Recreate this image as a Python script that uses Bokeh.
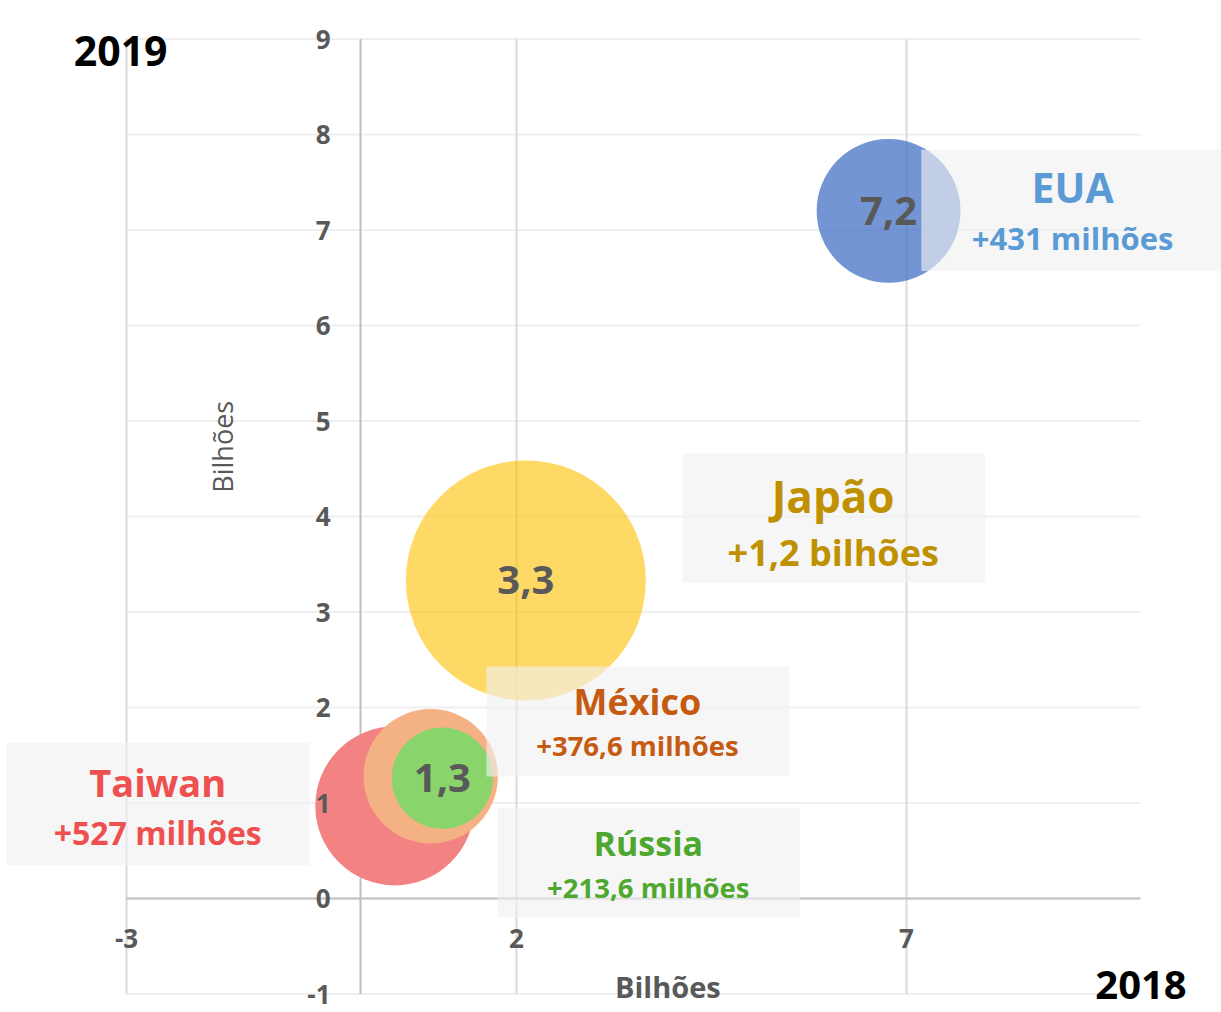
import math
from bokeh.plotting import figure
from bokeh.models import (Range1d, LinearAxis, FixedTicker, BoxAnnotation,
                          Label, ColumnDataSource)
from bokeh.embed import file_html
from bokeh.resources import INLINE
from bokeh.core.properties import value

# ---------------- data ----------------
countries = ["Taiwan", "México", "Rússia", "EUA", "Japão"]
val_2018 = [0.44, 0.90, 1.05, 6.77, 2.12]          # bilhões
val_2019 = [0.97, 1.28, 1.26, 7.20, 3.33]          # bilhões
growth_mi = [527, 376.6, 213.6, 431, 1200]         # milhões
growth_text = ["+527 milhões", "+376,6 milhões", "+213,6 milhões",
               "+431 milhões", "+1,2 bilhões"]
labelled = ["Rússia", "EUA", "Japão"]
x_ticks = [-3, 2, 7]
y_ticks = [-1, 0, 1, 2, 3, 4, 5, 6, 7, 8, 9]
x_min, x_max = -3, 10      # chart area (axis extent)
y_min, y_max = -1, 9

# ---------------- layout / styles ----------------
W, H = 1221, 1012
PX_X, X0 = 78.0, 360.0     # px per unit, px of x=0
PX_Y, Y0 = 95.5, 898.0     # px per unit, px of y=0
BASE_FIX = 0.4             # baseline correction (fraction of font size)
FONT = "Open Sans"
bubble_style = {
    "Taiwan": ("#F38383", 1.0),
    "México": ("#F4B183", 1.0),
    "Rússia": ("#8AD46C", 1.0),
    "EUA": ("#4472C4", 0.75),
    "Japão": ("#FFC000", 0.6),
}
text_color = {
    "Taiwan": "#EE5050",
    "México": "#C55A11",
    "Rússia": "#4EA72E",
    "EUA": "#5B9BD5",
    "Japão": "#BF9000",
}
box_layout = {
    "EUA":    dict(l=7.19, r=11.6, t=7.84, b=6.57, x=9.13, ty=7.277, sy=6.785, ts=41, ss=31),
    "Japão":  dict(l=4.13, r=8.01, t=4.66, b=3.31, x=6.06, ty=4.035, sy=3.469, ts=44, ss=36),
    "México": dict(l=1.615, r=5.50, t=2.43, b=1.277, x=3.55, ty=1.916, sy=1.487, ts=36, ss=27.5),
    "Rússia": dict(l=1.76, r=5.64, t=0.95, b=-0.196, x=3.69, ty=0.443, sy=-0.003, ts=34, ss=27.5),
    "Taiwan": dict(l=-4.54, r=-0.65, t=1.63, b=0.345, x=-2.60, ty=1.061, sy=0.562, ts=38, ss=32),
}


def fy(y, fs):
    return y + BASE_FIX * fs / PX_Y


MAX_D = 240  # diameter (px) of the largest bubble
sizes = [MAX_D * math.sqrt(g / max(growth_mi)) for g in growth_mi]

src = ColumnDataSource(dict(
    x=val_2018, y=val_2019, size=sizes,
    color=[bubble_style[c][0] for c in countries],
    alpha=[bubble_style[c][1] for c in countries],
))
lab_idx = [countries.index(c) for c in labelled]
lab_src = ColumnDataSource(dict(
    x=[val_2018[i] for i in lab_idx],
    y=[val_2019[i] for i in lab_idx],
    text=[f"{val_2019[i]:.1f}".replace(".", ",") for i in lab_idx],
))

p = figure(width=W, height=H,
           x_range=Range1d(-X0 / PX_X, (W - X0) / PX_X),
           y_range=Range1d((Y0 - H) / PX_Y, Y0 / PX_Y),
           x_axis_location=None, y_axis_location=None,
           toolbar_location=None, output_backend="svg",
           min_border_left=0, min_border_right=0,
           min_border_top=0, min_border_bottom=0,
           outline_line_color=None,
           background_fill_color="white", border_fill_color="white")
p.xgrid.visible = False
p.ygrid.visible = False

# grid lines limited to the chart area
p.segment(x0=[x_min] * len(y_ticks), x1=[x_max] * len(y_ticks), y0=y_ticks, y1=y_ticks,
          line_color="#EFEFEF", line_width=2, level="underlay")
p.segment(x0=x_ticks, x1=x_ticks, y0=[y_min] * len(x_ticks), y1=[y_max] * len(x_ticks),
          line_color="#D9D9D9", line_width=2, level="underlay")
# axis lines
p.segment(x0=[0, x_min], x1=[0, x_max], y0=[y_min, 0], y1=[y_max, 0],
          line_color="#BFBFBF", line_width=2, level="underlay")

axis_kw = dict(fixed_location=0, axis_line_color=None,
               major_tick_line_color=None, minor_tick_line_color=None,
               major_tick_out=0, minor_tick_out=0,
               major_label_text_font=FONT, major_label_text_font_style="bold",
               major_label_text_font_size="26px",
               major_label_text_color="#595959")
p.add_layout(LinearAxis(ticker=FixedTicker(ticks=y_ticks),
                        major_label_overrides={t: str(t) for t in y_ticks},
                        major_label_standoff=30, **axis_kw), "left")
p.add_layout(LinearAxis(ticker=FixedTicker(ticks=x_ticks),
                        major_label_overrides={t: str(t) for t in x_ticks},
                        major_label_standoff=30, **axis_kw), "below")

# bubbles
p.scatter(x="x", y="y", size="size", fill_color="color", fill_alpha="alpha",
          line_color=None, source=src)
p.text(x="x", y="y", text="text", source=lab_src,
       text_font=value(FONT), text_font_style="bold", text_font_size="40px",
       text_color="#595959", text_align="center", text_baseline="middle")

# label boxes
for c in countries:
    b = box_layout[c]
    p.add_layout(BoxAnnotation(left=b["l"], right=b["r"], top=b["t"], bottom=b["b"],
                               fill_color="#F0F0F0", fill_alpha=0.62,
                               line_color=None))
for c, g in zip(countries, growth_text):
    b = box_layout[c]
    p.add_layout(Label(x=b["x"], y=fy(b["ty"], b["ts"]), text=c, text_font=FONT,
                       text_font_style="bold", text_font_size=f"{b['ts']}px",
                       text_color=text_color[c], text_align="center",
                       text_baseline="alphabetic"))
    p.add_layout(Label(x=b["x"], y=fy(b["sy"], b["ss"]), text=g, text_font=FONT,
                       text_font_style="bold", text_font_size=f"{b['ss']}px",
                       text_color=text_color[c], text_align="center",
                       text_baseline="alphabetic"))

# axis titles and year labels
p.add_layout(Label(x=3.94, y=fy(-1.047, 29), text="Bilhões", text_font=FONT,
                   text_font_style="bold", text_font_size="29px",
                   text_color="#595959", text_align="center",
                   text_baseline="alphabetic"))
p.add_layout(Label(x=-1.635 - BASE_FIX * 27 / PX_X, y=4.73, text="Bilhões",
                   text_font=FONT, text_font_style="normal", text_font_size="27px",
                   text_color="#595959", text_align="center",
                   text_baseline="alphabetic", angle=math.pi / 2))
p.add_layout(Label(x=-3.676, y=fy(8.705, 41), text="2019", text_font=FONT,
                   text_font_style="bold", text_font_size="41px",
                   text_color="black", text_align="left",
                   text_baseline="alphabetic"))
p.add_layout(Label(x=9.42, y=fy(-1.07, 40), text="2018", text_font=FONT,
                   text_font_style="bold", text_font_size="40px",
                   text_color="black", text_align="left",
                   text_baseline="alphabetic"))

open("out.html", "w").write(file_html(p, INLINE))
